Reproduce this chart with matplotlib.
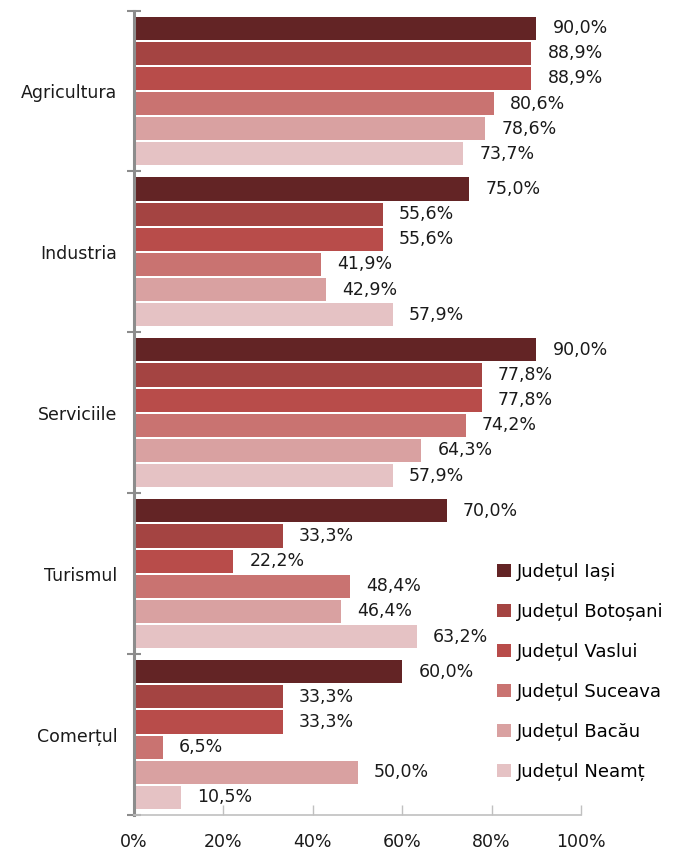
import matplotlib
matplotlib.use("Agg")
import matplotlib.pyplot as plt
from matplotlib.patches import Patch

categories = ["Agricultura", "Industria", "Serviciile", "Turismul", "Comerțul"]
series = ["Județul Iași", "Județul Botoșani", "Județul Vaslui",
          "Județul Suceava", "Județul Bacău", "Județul Neamț"]
values = [
    [90.0, 88.9, 88.9, 80.6, 78.6, 73.7],  # Agricultura
    [75.0, 55.6, 55.6, 41.9, 42.9, 57.9],  # Industria
    [90.0, 77.8, 77.8, 74.2, 64.3, 57.9],  # Serviciile
    [70.0, 33.3, 22.2, 48.4, 46.4, 63.2],  # Turismul
    [60.0, 33.3, 33.3, 6.5, 50.0, 10.5],   # Comerțul
]
colors = ["#632425", "#a44442", "#b84c4a", "#c97371", "#d9a1a1", "#e5c2c4"]
xticks = [0, 20, 40, 60, 80, 100]
xticklabels = ["0%", "20%", "40%", "60%", "80%", "100%"]

plt.rcParams['font.family'] = ['DejaVu Sans']

W, H = 683, 851
fig = plt.figure(figsize=(W / 100, H / 100), dpi=100)
left, right, top, bottom = 134, 581, 10.5, 815
ax = fig.add_axes([left / W, 1 - bottom / H, (right - left) / W, (bottom - top) / H])

G = 6.4
pad = 0.2
n = len(series)
for g, cat in enumerate(categories):
    for j in range(n):
        y = g * G + pad + j + 0.5
        v = values[g][j]
        ax.barh(y, v, height=0.92, color=colors[j], edgecolor='none')
        ax.text(v + 3.6, y, f"{v:.1f}".replace(".", ",") + "%",
                va='center', ha='left', fontsize=12.5, color='#1a1a1a')

ax.set_xlim(0, 100)
ax.set_ylim(len(categories) * G, 0)

ax.set_xticks(xticks)
ax.set_xticklabels(xticklabels, fontsize=12.5, color='#1a1a1a')
ax.tick_params(axis='x', direction='in', length=7, width=1, color='#c0c0c0', pad=13)

ax.set_yticks([g * G for g in range(len(categories) + 1)])
ax.set_yticklabels([])
ax.tick_params(axis='y', which='major', direction='inout', length=10, width=1.5, color='#8c8c8c')
ax.set_yticks([g * G + G / 2 for g in range(len(categories))], minor=True)
ax.set_yticklabels(categories, minor=True, fontsize=12.5, color='#1a1a1a')
ax.tick_params(axis='y', which='minor', length=0, pad=12)

for s in ['top', 'right']:
    ax.spines[s].set_visible(False)
ax.spines['left'].set_color('#8c8c8c')
ax.spines['left'].set_linewidth(2.2)
ax.spines['bottom'].set_color('#c0c0c0')
ax.spines['bottom'].set_linewidth(1.2)

handles = [Patch(facecolor=c, edgecolor='none') for c in colors]
fig.legend(handles, series, loc='upper left',
           bbox_to_anchor=(497 / W, 1 - 563 / H), frameon=False,
           fontsize=13, handlelength=0.75, handleheight=0.75, handletextpad=0.35,
           labelspacing=1.22, borderpad=0, borderaxespad=0)

fig.savefig("out.png", dpi=100)
